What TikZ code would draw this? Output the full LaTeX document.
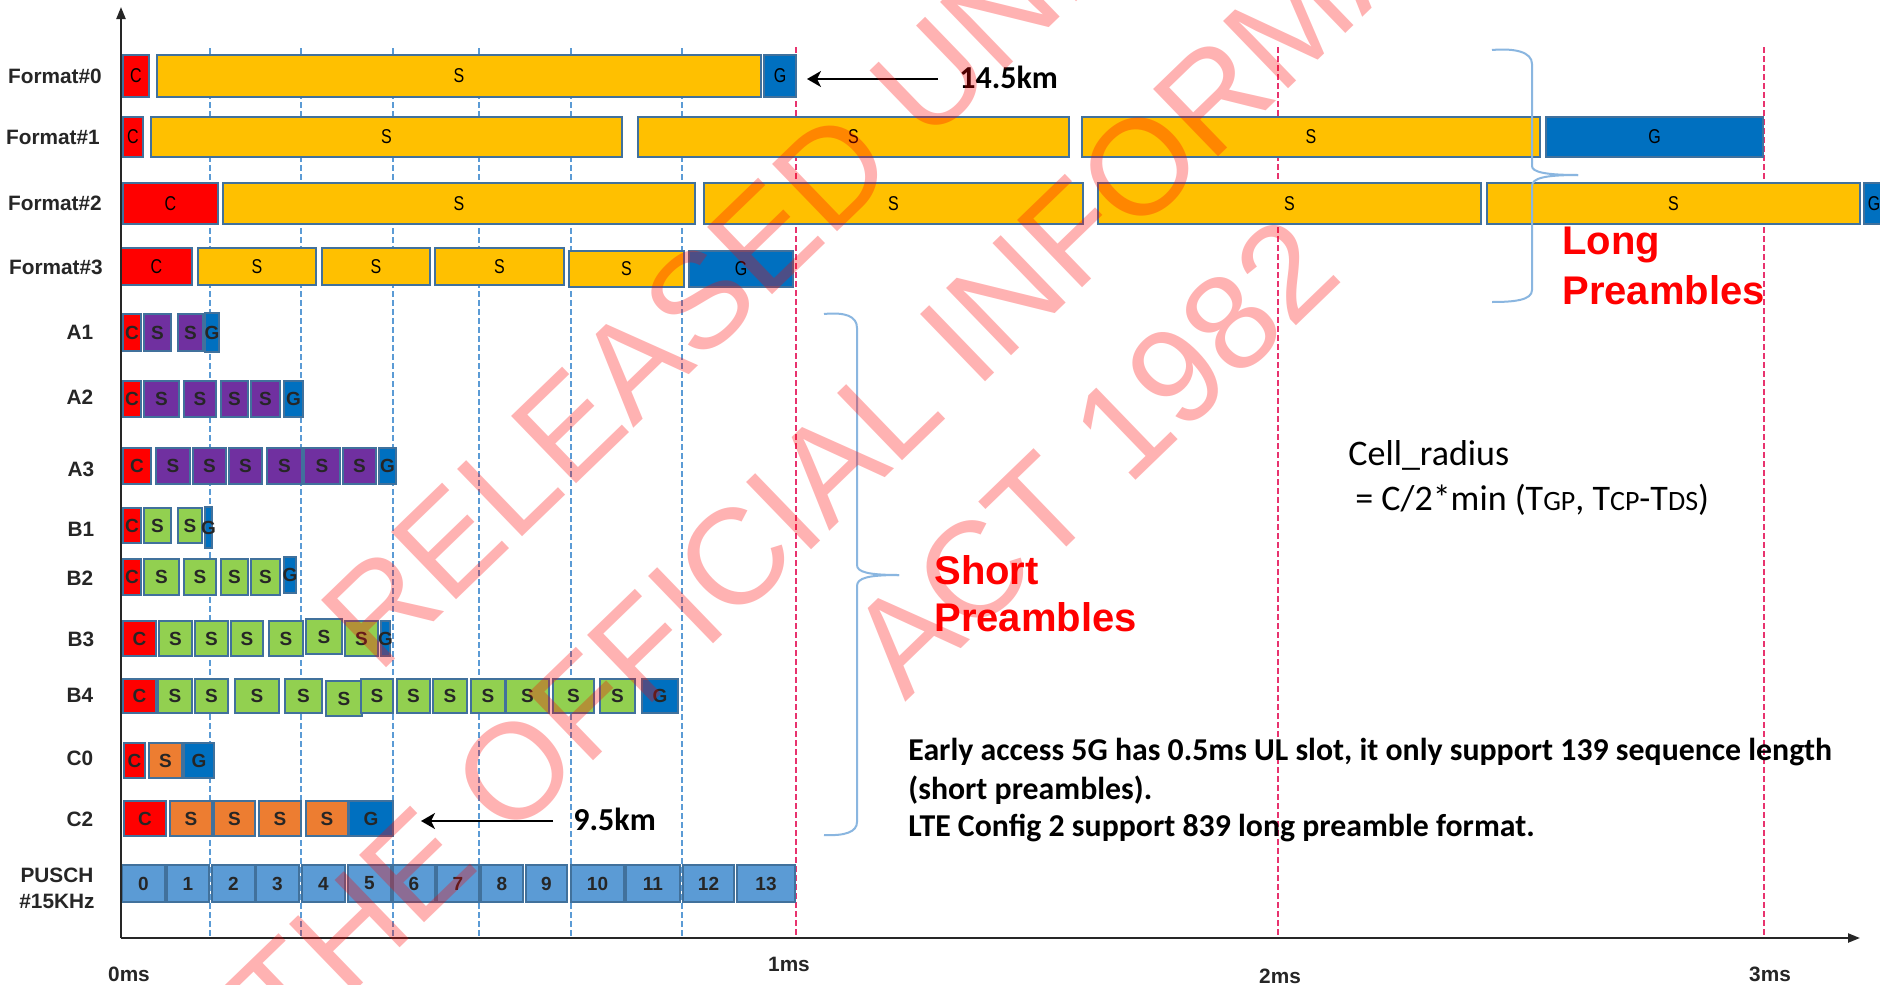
\documentclass[tikz,border=0pt]{standalone}
\usepackage{fontspec}
\setmainfont{Liberation Sans}
\newfontfamily\narrowsans{Liberation Sans}[FakeStretch=0.8]
\newfontfamily\calfont{Carlito}
\usetikzlibrary{arrows.meta}
\definecolor{cC}{HTML}{FF0000}
\definecolor{cS}{HTML}{FFC000}
\definecolor{cG}{HTML}{0070C0}
\definecolor{cP}{HTML}{7030A0}
\definecolor{cGr}{HTML}{92D050}
\definecolor{cO}{HTML}{ED7D31}
\definecolor{cU}{HTML}{5B9BD5}
\definecolor{edge}{HTML}{41719C}
\definecolor{gridblue}{HTML}{5B9BD5}
\definecolor{gridred}{HTML}{E8336E}
\definecolor{bracec}{HTML}{8AB6E0}
\definecolor{labc}{HTML}{262626}
\tikzset{
 slotbox/.style={draw=edge, line width=0.7pt},
 ltxt/.style={font=\narrowsans\fontsize{10}{12}\selectfont, text=black, inner sep=0},
 stxt/.style={font=\bfseries\fontsize{9.5}{11}\selectfont, text=black!85, inner sep=0},
 rowlab/.style={font=\bfseries\fontsize{10.4}{13}\selectfont, text=labc, inner sep=0, align=center},
 axlab/.style={font=\bfseries\fontsize{10.4}{12}\selectfont, text=labc, inner sep=0},
 bluegrid/.style={draw=gridblue, line width=0.6pt, dash pattern=on 3pt off 1.5pt},
 redgrid/.style={draw=gridred, line width=0.6pt, dash pattern=on 3pt off 1.5pt},
 axisline/.style={draw=black!85, line width=1.1pt, -{Triangle[length=6pt,width=4.5pt]}},
 kmarrow/.style={draw=black, line width=1.1pt, -{Stealth[length=7pt,width=8pt,inset=2pt]}},
 kmtxt/.style={font=\calfont\bfseries\fontsize{16}{19}\selectfont, inner sep=0, anchor=west},
 bigred/.style={font=\bfseries\fontsize{20}{24}\selectfont, text=red, inner sep=0, anchor=west},
 notetxt/.style={font=\calfont\bfseries\fontsize{15.9}{19}\selectfont, inner sep=0, anchor=west},
 celltxt/.style={font=\calfont\fontsize{18}{21}\selectfont, inner sep=0, anchor=west},
 bracepath/.style={draw=bracec, line width=1pt},
 wmark/.style={font=\fontsize{68}{80}\selectfont, text=red, text opacity=0.3, rotate=44, anchor=base west, inner sep=0}
}
\newcommand\slots[4]{%
 \foreach \xa/\xb/\cl/\tx in {#4}{%
  \draw[slotbox,fill=\cl] (\xa,#1) rectangle (\xb,#2);
  \node[#3] at ({(\xa+\xb)/2},{(#1+#2)/2}) {\tx};}}
\newcommand\lowcap[1]{{\fontsize{14}{16}\selectfont #1}}
\begin{document}
\begin{tikzpicture}[x=0.5pt,y=-0.5pt]
\useasboundingbox (0,0) rectangle (1880,985);
\begin{scope}
\clip (0,0) rectangle (1880,985);
\fill[white] (0,0) rectangle (1880,985);
% grid lines
\foreach \gx in {210,301,393,479,571,682}{\draw[bluegrid] (\gx,48) -- (\gx,938);}
\foreach \gx in {796,1278,1764}{\draw[redgrid] (\gx,47) -- (\gx,938);}
% long preamble formats
\slots{55}{97}{ltxt}{123/149/cC/C,157/761/cS/S,764/796/cG/G}
\slots{117}{157}{ltxt}{123/143/cC/C,151/622/cS/S,638/1069/cS/S,1082/1540/cS/S,1546/1763/cG/G}
\slots{183}{224}{ltxt}{123/218/cC/C,223/695/cS/S,704/1083/cS/S,1098/1481/cS/S,1487/1860/cS/S}
\draw[slotbox,fill=cG] (1864,183) rectangle (1900,224);
\node[ltxt] (g2) at (1874,203.5) {G};
\slots{248}{285}{ltxt}{121/192/cC/C,198/316/cS/S,322/430/cS/S,435/564/cS/S}
\slots{251}{287}{ltxt}{569/684/cS/S,689/793/cG/G}
% short preamble formats
\slots{314}{351}{stxt}{123/141/cC/C,144/171/cP/S,178/203/cP/S}
\slots{313}{352}{stxt}{205/219/cG/G}
\slots{381}{417}{stxt}{123/141/cC/C,144/179/cP/S,184/216/cP/S,221/248/cP/S,251/280/cP/S,284/303/cG/G}
\slots{448}{484}{stxt}{123/151/cC/C,156/190/cP/S,193/226/cP/S,229/262/cP/S,267/302/cP/S,304/340/cP/S,343/376/cP/S,379/396/cG/G}
\slots{508}{543}{stxt}{123/141/cC/C,144/171/cGr/S,178/202/cGr/S}
\slots{507}{548}{stxt}{205/212/cG/G}
\slots{559}{595}{stxt}{123/141/cC/C,144/179/cGr/S,184/216/cGr/S,221/248/cGr/S,251/280/cGr/S}
\slots{557}{593}{stxt}{284/296/cG/G}
\slots{621}{656}{stxt}{123/156/cC/C,159/192/cGr/S,195/228/cGr/S,231/263/cGr/S,269/303/cGr/S}
\slots{619}{654}{stxt}{306/342/cGr/S}
\slots{621}{656}{stxt}{345/378/cGr/S,381/390/cG/G}
\slots{679}{713}{stxt}{123/156/cC/C,158/192/cGr/S,195/228/cGr/S,235/279/cGr/S,285/322/cGr/S}
\slots{681}{716}{stxt}{326/362/cGr/S}
\slots{679}{713}{stxt}{361/393/cGr/S,397/430/cGr/S,433/467/cGr/S,471/505/cGr/S,506/549/cGr/S,553/594/cGr/S,600/635/cGr/S,642/678/cG/G}
\slots{743}{778}{stxt}{124/145/cC/C,149/182/cO/S,184/214/cG/G}
\slots{801}{836}{stxt}{124/166/cC/C,170/212/cO/S,214/255/cO/S,259/301/cO/S,306/348/cO/S,349/393/cG/G}
\slots{865}{902}{stxt}{122/165/cU/0,167/209/cU/1,212/255/cU/2,256/299/cU/3,302/345/cU/4,348/391/cU/5,393/435/cU/6,437/479/cU/7,481/523/cU/8,526/567/cU/9,571/624/cU/10,626/680/cU/11,683/734/cU/12,737/795/cU/13}
% row labels
\node[rowlab] (lf0) at (55,76) {Format\#0};
\node[rowlab] (lf1) at (53,137) {Format\#1};
\node[rowlab] (lf2) at (55,203) {Format\#2};
\node[rowlab] (lf3) at (56,267) {Format\#3};
\node[rowlab] (la1) at (80,332) {A1};
\node[rowlab] (la2) at (80,397) {A2};
\node[rowlab] (la3) at (81,469) {A3};
\node[rowlab] (lb1) at (81,529) {B1};
\node[rowlab] (lb2) at (80,578) {B2};
\node[rowlab] (lb3) at (81,639) {B3};
\node[rowlab] (lb4) at (80,695) {B4};
\node[rowlab] (lc0) at (80,758) {C0};
\node[rowlab] (lc2) at (80,819) {C2};
\node[rowlab] (lpu) at (57,888) {PUSCH\\\#15KHz};
% axes
\coordinate (org) at (121,938);
\coordinate (ytop) at (121,7);
\coordinate (xend) at (1860,938);
\draw[axisline] (org) -- (ytop);
\draw[axisline] (org) -- (xend);
\node[axlab] (t0) at (129,974) {0ms};
\node[axlab] (t1) at (789,964) {1ms};
\node[axlab] (t2) at (1280,976) {2ms};
\node[axlab] (t3) at (1770,974) {3ms};
% distance arrows
\node[kmtxt] (k145) at (959,77) {14.5km};
\coordinate (g0end) at (807,79);
\draw[kmarrow] ([xshift=-10.5pt,yshift=-1pt]k145.west) -- (g0end);
\node[kmtxt] (k95) at (573,819) {9.5km};
\coordinate (c2end) at (421,821);
\draw[kmarrow] ([xshift=-10pt,yshift=-1pt]k95.west) -- (c2end);
% braces
\draw[bracepath] (1492,50) .. controls (1515,48) and (1532,52) .. (1532,64) -- (1532,166) .. controls (1532,172) and (1545,175) .. (1578,175);
\draw[bracepath] (1578,175) .. controls (1545,175) and (1532,178) .. (1532,186) -- (1532,290) .. controls (1532,300) and (1515,302) .. (1492,302);
\draw[bracepath] (824,314) .. controls (845,312) and (857,316) .. (857,328) -- (857,565) .. controls (857,572) and (868,575) .. (899,575);
\draw[bracepath] (899,575) .. controls (868,575) and (857,578) .. (857,586) -- (857,822) .. controls (857,832) and (845,836) .. (824,835);
\node[bigred] (lng1) at (1562,245) {Long};
\node[bigred] (lng2) at (1562,290) {Preambles};
\node[bigred] (sh1) at (934,570) {Short};
\node[bigred] (sh2) at (934,617) {Preambles};
% notes
\node[celltxt] (cr1) at (1348,455) {Cell\_radius};
\node[celltxt] (cr2) at (1355,500) {= C/2*min (T\lowcap{GP}, T\lowcap{CP}-T\lowcap{DS})};
\node[notetxt] (n1) at (908,752) {Early access 5G has 0.5ms UL slot, it only support 139 sequence length};
\node[notetxt] (n2) at (908,790) {(short preambles).};
\node[notetxt] (n3) at (908,828) {LTE Config 2 support 839 long preamble format.};
% watermark
\node[wmark] (w1) at (378,676) {RELEASED UNDER};
\node[wmark] (w2) at (286,1057) {THE OFFICIAL INFORMATION};
\node[wmark] (w3) at (905,703) {ACT 1982};
\end{scope}
\end{tikzpicture}
\end{document}
